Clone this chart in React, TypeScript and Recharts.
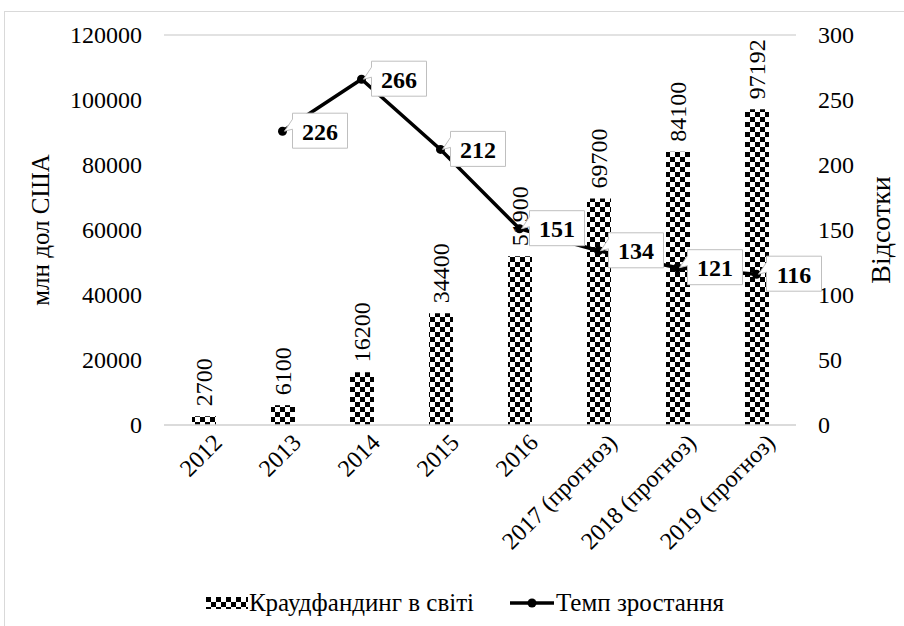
import React from "react";
import {
  ComposedChart,
  Bar,
  Line,
  XAxis,
  YAxis,
  CartesianGrid,
  Legend,
  LabelList,
} from "recharts";

const years = [
  "2012",
  "2013",
  "2014",
  "2015",
  "2016",
  "2017 (прогноз)",
  "2018 (прогноз)",
  "2019 (прогноз)",
];
const funding = [2700, 6100, 16200, 34400, 51900, 69700, 84100, 97192];
const growth: (number | null)[] = [null, 226, 266, 212, 151, 134, 121, 116];

const leftTicks = [0, 20000, 40000, 60000, 80000, 100000, 120000];
const rightTicks = [0, 50, 100, 150, 200, 250, 300];

const chartData = years.map((y, i) => ({
  year: y,
  funding: funding[i],
  growth: growth[i],
}));

const FONT = "'Liberation Serif', 'DejaVu Serif', serif";
const GRID = "#d9d9d9";

function XTick(props: any) {
  const { x, y, payload } = props;
  return (
    <text
      x={0}
      y={0}
      transform={`translate(${x + 20}, ${y + 17}) rotate(-45)`}
      textAnchor="end"
      fontSize={24}
      fontFamily={FONT}
      fill="#000"
    >
      {payload.value}
    </text>
  );
}

function YTick(props: any) {
  const { x, y, payload, anchor } = props;
  return (
    <text
      x={x}
      y={y}
      textAnchor={anchor}
      dominantBaseline="central"
      fontSize={24}
      fontFamily={FONT}
      fill="#000"
    >
      {payload.value}
    </text>
  );
}

function BarValue(props: any) {
  const { x, y, width, value } = props;
  const cx = x + width / 2;
  const ty = y - 10;
  return (
    <text
      x={cx}
      y={ty}
      transform={`rotate(-90, ${cx}, ${ty})`}
      textAnchor="start"
      dominantBaseline="central"
      fontSize={24}
      fontFamily={FONT}
      fill="#000"
    >
      {value}
    </text>
  );
}

function Callout(props: any) {
  const { x, y, value } = props;
  if (value == null) return null;
  const w = 55;
  const h = 35;
  const l = x + 10;
  const t = y - 18;
  const d = `M${l},${t} H${l + w} V${t + h} H${l} V${t + 16} L${x + 2},${y} L${l},${t + 6} Z`;
  return (
    <g>
      <path d={d} fill="#fff" stroke="#bfbfbf" strokeWidth={1} />
      <text
        x={l + w / 2}
        y={t + h / 2 + 1}
        textAnchor="middle"
        dominantBaseline="central"
        fontSize={24}
        fontWeight="bold"
        fontFamily={FONT}
        fill="#000"
      >
        {value}
      </text>
    </g>
  );
}

function AxisTitle(props: any) {
  const { viewBox, value, dx, size } = props;
  const cx = viewBox.x + dx;
  const cy = viewBox.y + viewBox.height / 2;
  return (
    <text
      x={cx}
      y={cy}
      transform={`rotate(-90, ${cx}, ${cy})`}
      textAnchor="middle"
      dominantBaseline="central"
      fontSize={size}
      fontFamily={FONT}
      fill="#000"
    >
      {value}
    </text>
  );
}

function LegendBox() {
  return (
    <div
      style={{
        display: "flex",
        justifyContent: "center",
        alignItems: "center",
        paddingLeft: 20,
        fontFamily: FONT,
        fontSize: 25,
        color: "#000",
        height: 40,
      }}
    >
      <span style={{ display: "flex", alignItems: "center", marginRight: 36 }}>
        <svg width={42} height={12} style={{ marginRight: 1 }}>
          <rect width={42} height={12} fill="url(#checker)" />
        </svg>
        Краудфандинг в світі
      </span>
      <span style={{ display: "flex", alignItems: "center" }}>
        <svg width={44} height={12} style={{ marginRight: 2 }}>
          <line x1={0} y1={6} x2={44} y2={6} stroke="#000" strokeWidth={3.5} />
          <circle cx={22} cy={6} r={4.5} fill="#000" />
        </svg>
        Темп зростання
      </span>
    </div>
  );
}

export default function App() {
  return (
    <div
      style={{
        position: "absolute",
        left: 4,
        top: 11,
        width: 920,
        height: 640,
        border: `1px solid ${GRID}`,
        background: "#fff",
        fontFamily: FONT,
      }}
    >
      <ComposedChart
        width={900}
        height={614}
        data={chartData}
        margin={{ top: 23, right: 45, left: 10, bottom: 3 }}
        barCategoryGap="0%"
      >
        <defs>
          <pattern id="checker" width={10} height={10} patternUnits="userSpaceOnUse">
            <rect width={10} height={10} fill="#fff" />
            <rect x={0} y={0} width={5} height={5} fill="#000" />
            <rect x={5} y={5} width={5} height={5} fill="#000" />
          </pattern>
        </defs>
        <CartesianGrid vertical={false} stroke={GRID} strokeWidth={1.5} />
        <XAxis
          dataKey="year"
          interval={0}
          height={158}
          tickSize={0}
          tickLine={false}
          axisLine={{ stroke: GRID, strokeWidth: 1.5 }}
          tick={<XTick />}
        />
        <YAxis
          yAxisId="left"
          width={149}
          domain={[0, 120000]}
          ticks={leftTicks}
          tickSize={0}
          tickMargin={22}
          tickLine={false}
          axisLine={false}
          tick={<YTick anchor="end" />}
          label={<AxisTitle value="млн дол США" dx={25} size={25} />}
        />
        <YAxis
          yAxisId="right"
          orientation="right"
          width={64}
          domain={[0, 300]}
          ticks={rightTicks}
          tickSize={0}
          tickMargin={22}
          tickLine={false}
          axisLine={false}
          tick={<YTick anchor="start" />}
          label={<AxisTitle value="Відсотки" dx={84} size={28} />}
        />
        <Legend
          verticalAlign="bottom"
          wrapperStyle={{ left: 0, width: 900, height: 40 }}
          content={() => <LegendBox />}
        />
        <Bar
          yAxisId="left"
          dataKey="funding"
          name="Краудфандинг в світі"
          fill="url(#checker)"
          barSize={24}
          isAnimationActive={false}
        >
          <LabelList dataKey="funding" content={<BarValue />} />
        </Bar>
        <Line
          yAxisId="right"
          dataKey="growth"
          name="Темп зростання"
          stroke="#000"
          strokeWidth={3.5}
          dot={{ r: 4.5, fill: "#000", stroke: "#000", strokeWidth: 0 }}
          activeDot={false}
          isAnimationActive={false}
        >
          <LabelList dataKey="growth" content={<Callout />} />
        </Line>
      </ComposedChart>
    </div>
  );
}
